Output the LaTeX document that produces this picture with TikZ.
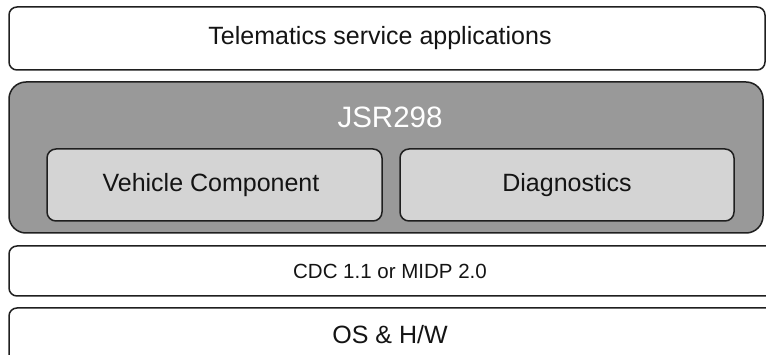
\documentclass[tikz,border=0pt]{standalone}
\usepackage{fontspec}
\setmainfont{Liberation Sans}
\begin{document}
\begin{tikzpicture}[x=1pt,y=-1pt,
  layer/.style={draw=black!88,line width=1.5pt,rounded corners=8pt},
  whitebox/.style={layer,fill=white},
  graybox/.style={layer,fill=black!40,rounded corners=17pt},
  innerbox/.style={layer,fill=black!17,rounded corners=9pt},
  lbl/.style={font=\fontsize{25}{29}\selectfont,text=black!92,inner sep=0pt}]
\useasboundingbox (0,0) rectangle (766,355);
\clip (0,0) rectangle (766,355);
\fill[white] (0,0) rectangle (766,355);
\draw[whitebox] (9,7) rectangle (765,70);
\node[lbl] (tsa) at (380,38) {Telematics service applications};
\draw[graybox] (9,82) rectangle (763,233);
\node[lbl,text=white,font=\fontsize{29.5}{33}\selectfont] (jsr) at (390,117) {JSR298};
\draw[innerbox] (47,149) rectangle (382,221);
\node[lbl] (vc) at (211,185) {Vehicle Component};
\draw[innerbox] (400,149) rectangle (734,221);
\node[lbl] (diag) at (567,185) {Diagnostics};
\draw[whitebox] (9,246) rectangle (790,296);
\node[lbl,font=\fontsize{20.5}{24}\selectfont] (cdc) at (390,271) {CDC 1.1 or MIDP 2.0};
\draw[whitebox] (9,308) rectangle (790,380);
\node[lbl,font=\fontsize{25}{29}\selectfont] (os) at (390,335) {OS \& H/W};
\end{tikzpicture}
\end{document}
